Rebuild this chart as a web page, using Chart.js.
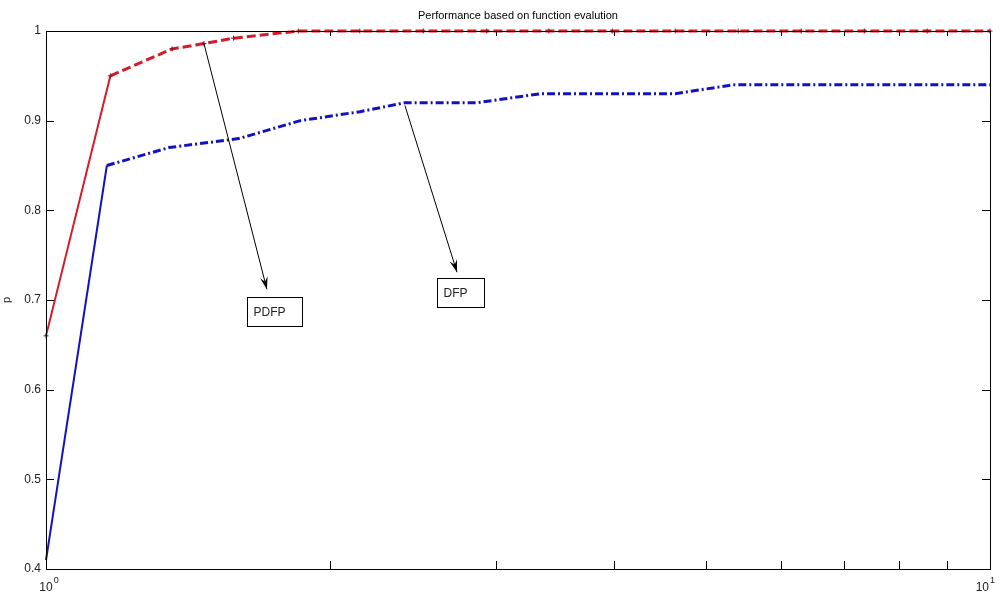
<!DOCTYPE html>
<html>
<head>
<meta charset="utf-8">
<script src="https://cdn.jsdelivr.net/npm/chart.js@4/dist/chart.umd.min.js"></script>
<style>
  body { margin: 0; background: #fff; }
  canvas { display: block; }
</style>
</head>
<body>
<canvas id="perfChart" width="1000" height="594"></canvas>
<script>
// performance profile values
const xPdfp = [1, 1.17, 1.36, 1.47, 1.58, 1.85, 2.15, 2.51, 2.93, 3.41, 3.98, 4.64, 5.41, 6.31, 7.36, 8.58, 10];
const pPdfp = [0.66, 0.95, 0.98, 0.986, 0.992, 1, 1, 1, 1, 1, 1, 1, 1, 1, 1, 1, 1];

const xDfp = [1, 1.16, 1.35, 1.6, 1.86, 2.15, 2.4, 2.86, 3.34, 4.64, 5.34, 10];
const pDfp = [0.41, 0.85, 0.87, 0.88, 0.9, 0.91, 0.92, 0.92, 0.93, 0.93, 0.94, 0.94];

const yTicks = [0.4, 0.5, 0.6, 0.7, 0.8, 0.9, 1];
const xTicks = [1, 2, 3, 4, 5, 6, 7, 8, 9, 10];
const xLabels = [{ v: 1, exp: '0' }, { v: 10, exp: '1' }];

const titleText = 'Performance based on function evalution';

// callouts: arrow from a point on the curve to a labelled box
const callouts = [
    { text: 'PDFP', from: [1.47, 0.986], to: [1.714, 0.712], box: [1.633, 0.703], w: 55, h: 29 },
    { text: 'DFP', from: [2.40, 0.917], to: [2.725, 0.731], box: [2.595, 0.7245], w: 47, h: 29 }
];

function toPoints(xs, ys) {
    return xs.map(function (x, i) { return { x: x, y: ys[i] }; });
}

const TICK = 8;
const FONT = '"Liberation Sans", Arial, sans-serif';

const matlabAxes = {
    id: 'matlabAxes',
    afterDraw: function (chart) {
        const ctx = chart.ctx;
        const a = chart.chartArea;
        const xs = chart.scales.x;
        const ys = chart.scales.y;
        ctx.save();
        ctx.strokeStyle = '#000';
        ctx.lineWidth = 1;

        // box
        ctx.strokeRect(Math.round(a.left) + 0.5, Math.round(a.top) + 0.5,
            Math.round(a.right - a.left), Math.round(a.bottom - a.top));

        ctx.beginPath();
        yTicks.forEach(function (v) {
            const py = Math.round(ys.getPixelForValue(v)) + 0.5;
            ctx.moveTo(a.left, py); ctx.lineTo(a.left + TICK, py);
            ctx.moveTo(a.right, py); ctx.lineTo(a.right - TICK, py);
        });
        xTicks.forEach(function (v) {
            const px = Math.round(xs.getPixelForValue(v)) + 0.5;
            ctx.moveTo(px, a.bottom); ctx.lineTo(px, a.bottom - TICK);
            ctx.moveTo(px, a.top); ctx.lineTo(px, a.top + TICK - 3);
        });
        ctx.stroke();

        // x labels 10^0 and 10^1
        ctx.fillStyle = '#222';
        ctx.textBaseline = 'alphabetic';
        xLabels.forEach(function (l) {
            let px = xs.getPixelForValue(l.v);
            ctx.font = '12px ' + FONT;
            const w = ctx.measureText('10').width;
            ctx.font = '9px ' + FONT;
            const we = ctx.measureText(l.exp).width;
            if (px + w / 2 + we > chart.width) px = chart.width - we - w / 2 - 6;
            ctx.font = '12px ' + FONT;
            ctx.textAlign = 'left';
            ctx.fillText('10', px - w / 2, a.bottom + 22);
            ctx.font = '9px ' + FONT;
            ctx.fillText(l.exp, px + w / 2 + 1, a.bottom + 14);
        });

        // title
        ctx.font = '11px ' + FONT;
        ctx.textAlign = 'center';
        ctx.fillStyle = '#000';
        ctx.fillText(titleText, (a.left + a.right) / 2, a.top - 12);

        // callouts
        callouts.forEach(function (c) {
            const x0 = xs.getPixelForValue(c.from[0]), y0 = ys.getPixelForValue(c.from[1]);
            const x1 = xs.getPixelForValue(c.to[0]), y1 = ys.getPixelForValue(c.to[1]);
            ctx.beginPath();
            ctx.moveTo(x0, y0); ctx.lineTo(x1, y1);
            ctx.stroke();
            const ang = Math.atan2(y1 - y0, x1 - x0);
            const len = 13, half = 0.3;
            ctx.beginPath();
            ctx.moveTo(x1, y1);
            ctx.lineTo(x1 - len * Math.cos(ang - half), y1 - len * Math.sin(ang - half));
            ctx.lineTo(x1 - len * 0.6 * Math.cos(ang), y1 - len * 0.6 * Math.sin(ang));
            ctx.lineTo(x1 - len * Math.cos(ang + half), y1 - len * Math.sin(ang + half));
            ctx.closePath();
            ctx.fillStyle = '#000';
            ctx.fill();

            const bx = Math.round(xs.getPixelForValue(c.box[0])) + 0.5;
            const by = Math.round(ys.getPixelForValue(c.box[1])) + 0.5;
            ctx.fillStyle = '#fff';
            ctx.fillRect(bx, by, c.w, c.h);
            ctx.strokeRect(bx, by, c.w, c.h);
            ctx.fillStyle = '#222';
            ctx.font = '12px ' + FONT;
            ctx.textAlign = 'left';
            ctx.textBaseline = 'middle';
            ctx.fillText(c.text, bx + 6, by + c.h / 2 + 1);
            ctx.textBaseline = 'alphabetic';
        });
        ctx.restore();
    }
};

const perfConfig = {
    type: 'line',
    data: {
        datasets: [{
            label: 'PDFP',
            data: toPoints(xPdfp, pPdfp),
            borderColor: 'rgb(212, 28, 40)',
            backgroundColor: 'rgb(150, 20, 30)',
            borderWidth: 3,
            borderDash: [9, 4],
            pointStyle: 'cross',
            pointRadius: 2.5,
            pointBorderWidth: 1,
            pointBorderColor: 'rgb(140, 20, 30)',
            fill: false,
            tension: 0,
            clip: 6,
            segment: {
                borderDash: function (ctx) { return ctx.p0DataIndex === 0 ? [] : undefined; },
                borderWidth: function (ctx) { return ctx.p0DataIndex === 0 ? 2 : undefined; }
            }
        }, {
            label: 'DFP',
            data: toPoints(xDfp, pDfp),
            borderColor: 'rgb(18, 18, 190)',
            backgroundColor: 'rgb(18, 18, 190)',
            borderWidth: 3,
            borderDash: [8, 3, 2, 3],
            pointRadius: 0,
            fill: false,
            tension: 0,
            clip: 6,
            segment: {
                borderDash: function (ctx) { return ctx.p0DataIndex === 0 ? [] : undefined; },
                borderWidth: function (ctx) { return ctx.p0DataIndex === 0 ? 2 : undefined; }
            }
        }]
    },
    options: {
        responsive: false,
        animation: false,
        layout: { padding: { top: 31, right: 10, left: 0, bottom: 0 } },
        plugins: {
            legend: { display: false },
            title: { display: false },
            tooltip: { enabled: false }
        },
        scales: {
            x: {
                type: 'logarithmic',
                min: 1,
                max: 10,
                grid: { display: false, drawTicks: false },
                border: { display: false },
                ticks: { display: false },
                afterFit: function (scale) { scale.height = 25; }
            },
            y: {
                type: 'linear',
                min: 0.4,
                max: 1,
                grid: { display: false, drawTicks: false },
                border: { display: false },
                afterBuildTicks: function (scale) {
                    scale.ticks = yTicks.map(function (v) { return { value: v }; });
                },
                ticks: {
                    padding: 5,
                    color: '#222',
                    font: { family: FONT, size: 12 },
                    callback: function (v) { return String(Math.round(v * 10) / 10); }
                },
                title: {
                    display: true,
                    text: 'p',
                    color: '#222',
                    font: { family: FONT, size: 11 },
                    padding: { top: 0, bottom: 0 }
                },
                afterFit: function (scale) { scale.width = 46; }
            }
        }
    },
    plugins: [matlabAxes]
};

window.onload = function () {
    const ctx = document.getElementById('perfChart').getContext('2d');
    window.perfChart = new Chart(ctx, perfConfig);
};
</script>
</body>
</html>
